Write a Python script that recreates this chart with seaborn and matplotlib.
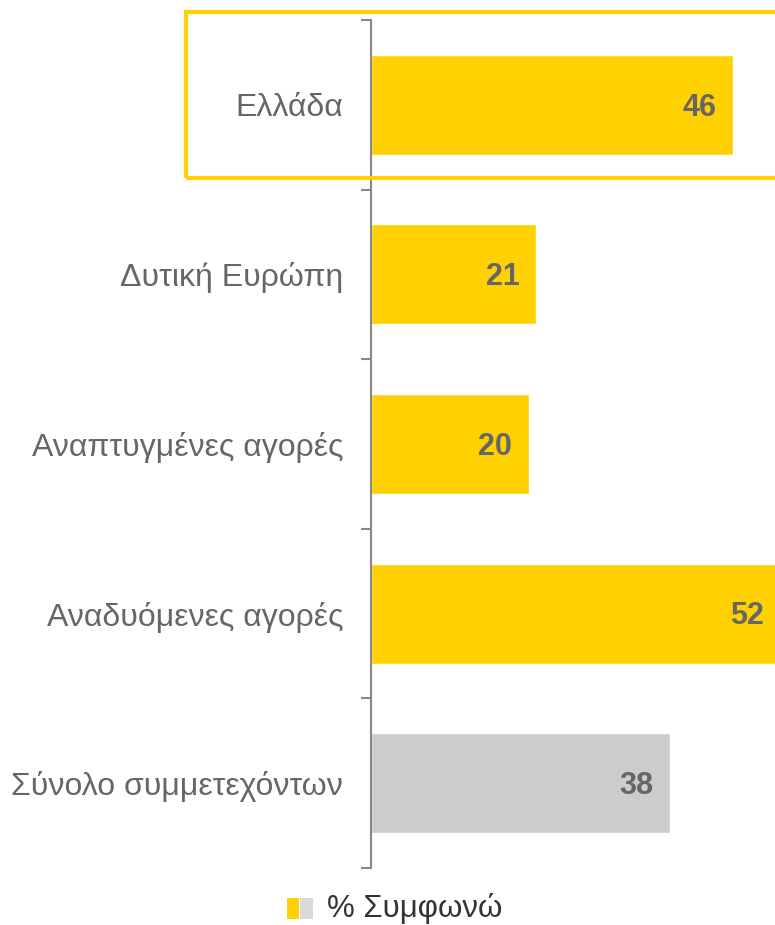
import matplotlib
matplotlib.use("Agg")
import matplotlib.pyplot as plt
import seaborn as sns
import pandas as pd
from matplotlib.patches import Rectangle

# Data
categories = ["Ελλάδα", "Δυτική Ευρώπη", "Αναπτυγμένες αγορές",
              "Αναδυόμενες αγορές", "Σύνολο συμμετεχόντων"]
values = [46, 21, 20, 52, 38]
bar_colors = ["#FFD100", "#FFD100", "#FFD100", "#FFD100", "#CCCCCC"]
legend_label = "% Συμφωνώ"

YELLOW = "#FFD100"
TEXT_GREY = "#666666"
AXIS_GREY = "#888888"

sns.set_theme(style="white")
plt.rcParams["font.family"] = ["Liberation Sans", "DejaVu Sans"]

df = pd.DataFrame({"category": categories, "value": values})

fig = plt.figure(figsize=(7.75, 9.25), dpi=100)
ax = fig.add_axes([0.4787, 0.0616, 0.5213, 0.9168])

sns.barplot(data=df, x="value", y="category", hue="category",
            palette=bar_colors, legend=False, width=0.59, ax=ax,
            saturation=1)

ax.set_xlim(0, 51.3)
ax.set_ylim(4.5, -0.5)
ax.set_xlabel("")
ax.set_ylabel("")
ax.set_xticks([])

for s in ["top", "right", "bottom"]:
    ax.spines[s].set_visible(False)
ax.spines["left"].set_color(AXIS_GREY)
ax.spines["left"].set_linewidth(1.5)

# labels at centers, tick marks at category boundaries
ax.set_yticks(range(len(categories)))
ax.set_yticklabels(categories, fontsize=23, color=TEXT_GREY)
ax.tick_params(axis="y", which="major", length=0, pad=20)
ax.set_yticks([i - 0.5 for i in range(len(categories) + 1)], minor=True)
ax.tick_params(axis="y", which="minor", left=True, length=7, width=1.5,
               color=AXIS_GREY, direction="out")

# value labels inside bar ends
for i, v in enumerate(values):
    ax.annotate(str(v), xy=(v, i), xytext=(-12, -2),
                textcoords="offset points", ha="right", va="center",
                fontsize=22, fontweight="bold", color=TEXT_GREY,
                annotation_clip=False)

# highlight box around Ελλάδα
fig.patches.append(Rectangle((186 / 775, 1 - 178 / 925), 600 / 775,
                             166 / 925, transform=fig.transFigure,
                             fill=False, edgecolor=YELLOW, linewidth=3))

# legend
fig.patches.append(Rectangle((287 / 775, 1 - 919 / 925), 12 / 775, 21 / 925,
                             transform=fig.transFigure, facecolor=YELLOW,
                             edgecolor="none"))
fig.patches.append(Rectangle((300 / 775, 1 - 919 / 925), 13 / 775, 21 / 925,
                             transform=fig.transFigure, facecolor="#D9D9D9",
                             edgecolor="none"))
fig.text(327 / 775, 1 - 909 / 925, legend_label, fontsize=22.5,
         color="#333333", va="center", ha="left")

fig.savefig("out.png", dpi=100)
